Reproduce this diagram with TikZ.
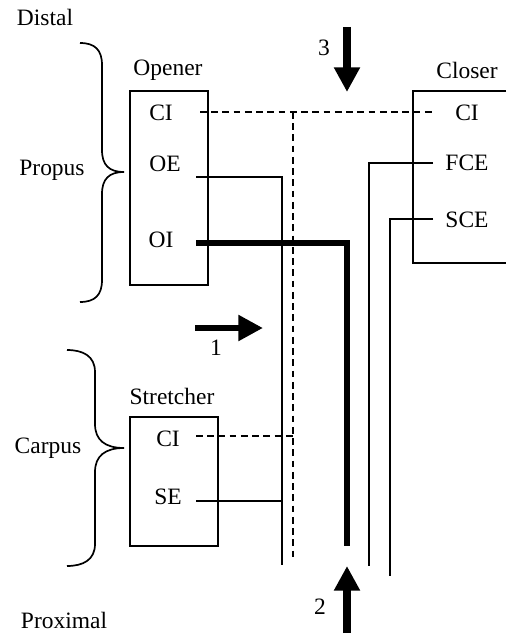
\documentclass[tikz,border=0pt]{standalone}
\usepackage{fontspec}
\setmainfont{Liberation Serif}
\usetikzlibrary{arrows.meta}

\begin{document}
\begin{tikzpicture}[x=0.7113pt,y=-0.7113pt,
  lbl/.style={inner sep=0pt,font=\fontsize{16.7}{20}\selectfont},
  boxline/.style={line width=1.2pt},
  wire/.style={line width=1.5pt},
  thinwire/.style={line width=1.0pt},
  fatwire/.style={line width=3.6pt},
  dashwire/.style={line width=1.3pt,dash pattern=on 4.8pt off 3.2pt},
  bigarrow/.style={line width=5.7pt,-{Triangle[length=17.5pt,width=17.5pt]}}]
\useasboundingbox (0,0) rectangle (506,634);

% labels
\node[lbl] (distal) at (45,17) {Distal};
\node[lbl] (proximal) at (64,620) {Proximal};
\node[lbl] (propus) at (52,170) {Propus};
\node[lbl] (carpus) at (48,448) {Carpus};

% braces
\draw[boxline] (80,43) .. controls (95,43) and (102,50) .. (102,65) -- (102,150) .. controls (102,165) and (109,172) .. (124,172) .. controls (109,172) and (102,179) .. (102,194) -- (102,280) .. controls (102,295) and (95,302) .. (80,302);
\draw[boxline] (67,350) .. controls (83,350) and (95,356) .. (95,372) -- (95,424) .. controls (95,440) and (105,448) .. (124,448) .. controls (105,448) and (95,456) .. (95,472) -- (95,544) .. controls (95,560) and (83,566) .. (67,566);

% muscles
\node[lbl] (opener) at (168,70) {Opener};
\draw[boxline] (130,91) rectangle (208,285);
\node[lbl] (opCI) at (161,113) {CI};
\node[lbl] (opOE) at (165,164) {OE};
\node[lbl] (opOI) at (161,240) {OI};

\node[lbl] (closer) at (467,70) {Closer};
\draw[boxline] (506,91) -- (413,91) -- (413,263) -- (506,263);
\node[lbl] (clCI) at (467,113) {CI};
\node[lbl] (clFCE) at (467,163) {FCE};
\node[lbl] (clSCE) at (467,220) {SCE};

\node[lbl] (stretcher) at (172,396) {Stretcher};
\draw[boxline] (130,417) rectangle (218,546);
\node[lbl] (stCI) at (168,439) {CI};
\node[lbl] (stSE) at (168,497) {SE};

% nerve ports
\coordinate (opCIp) at (200,112);
\coordinate (opOEp) at (196,177);
\coordinate (opOIp) at (196,243);
\coordinate (clCIp) at (433,112);
\coordinate (clFCEp) at (433,163);
\coordinate (clSCEp) at (433,219);
\coordinate (stCIp) at (196,436);
\coordinate (stSEp) at (196,501);
\coordinate (ciJoin) at (293,112);
\coordinate (ciEnd) at (293,558);
\coordinate (oeEnd) at (282,565);
\coordinate (oiEnd) at (347,546);
\coordinate (fceEnd) at (369,566);
\coordinate (sceEnd) at (390,576);

% nerves
\draw[dashwire] (opCIp) -- (clCIp);
\draw[dashwire] (ciJoin) -- (ciEnd);
\draw[dashwire] (stCIp) -- (ciJoin |- stCIp);
\draw[wire] (opOEp) -| (oeEnd);
\draw[wire] (stSEp) -- (oeEnd |- stSEp);
\draw[fatwire] (opOIp) -| (oiEnd);
\draw[thinwire] (clFCEp) -| (fceEnd);
\draw[thinwire] (clSCEp) -| (sceEnd);

% stimulus arrows
\coordinate (a1s) at (195,328);
\coordinate (a1e) at (263,328);
\coordinate (a3s) at (347,27);
\coordinate (a3e) at (347,92);
\coordinate (a2s) at (347,633);
\coordinate (a2e) at (347,566);
\draw[bigarrow,line width=4.4pt] (a1s) -- (a1e);
\draw[bigarrow] (a3s) -- (a3e);
\draw[bigarrow] (a2s) -- (a2e);
\node[lbl] (n1) at (216,348) {1};
\node[lbl] (n2) at (320,607) {2};
\node[lbl] (n3) at (324,48) {3};
\end{tikzpicture}
\end{document}
